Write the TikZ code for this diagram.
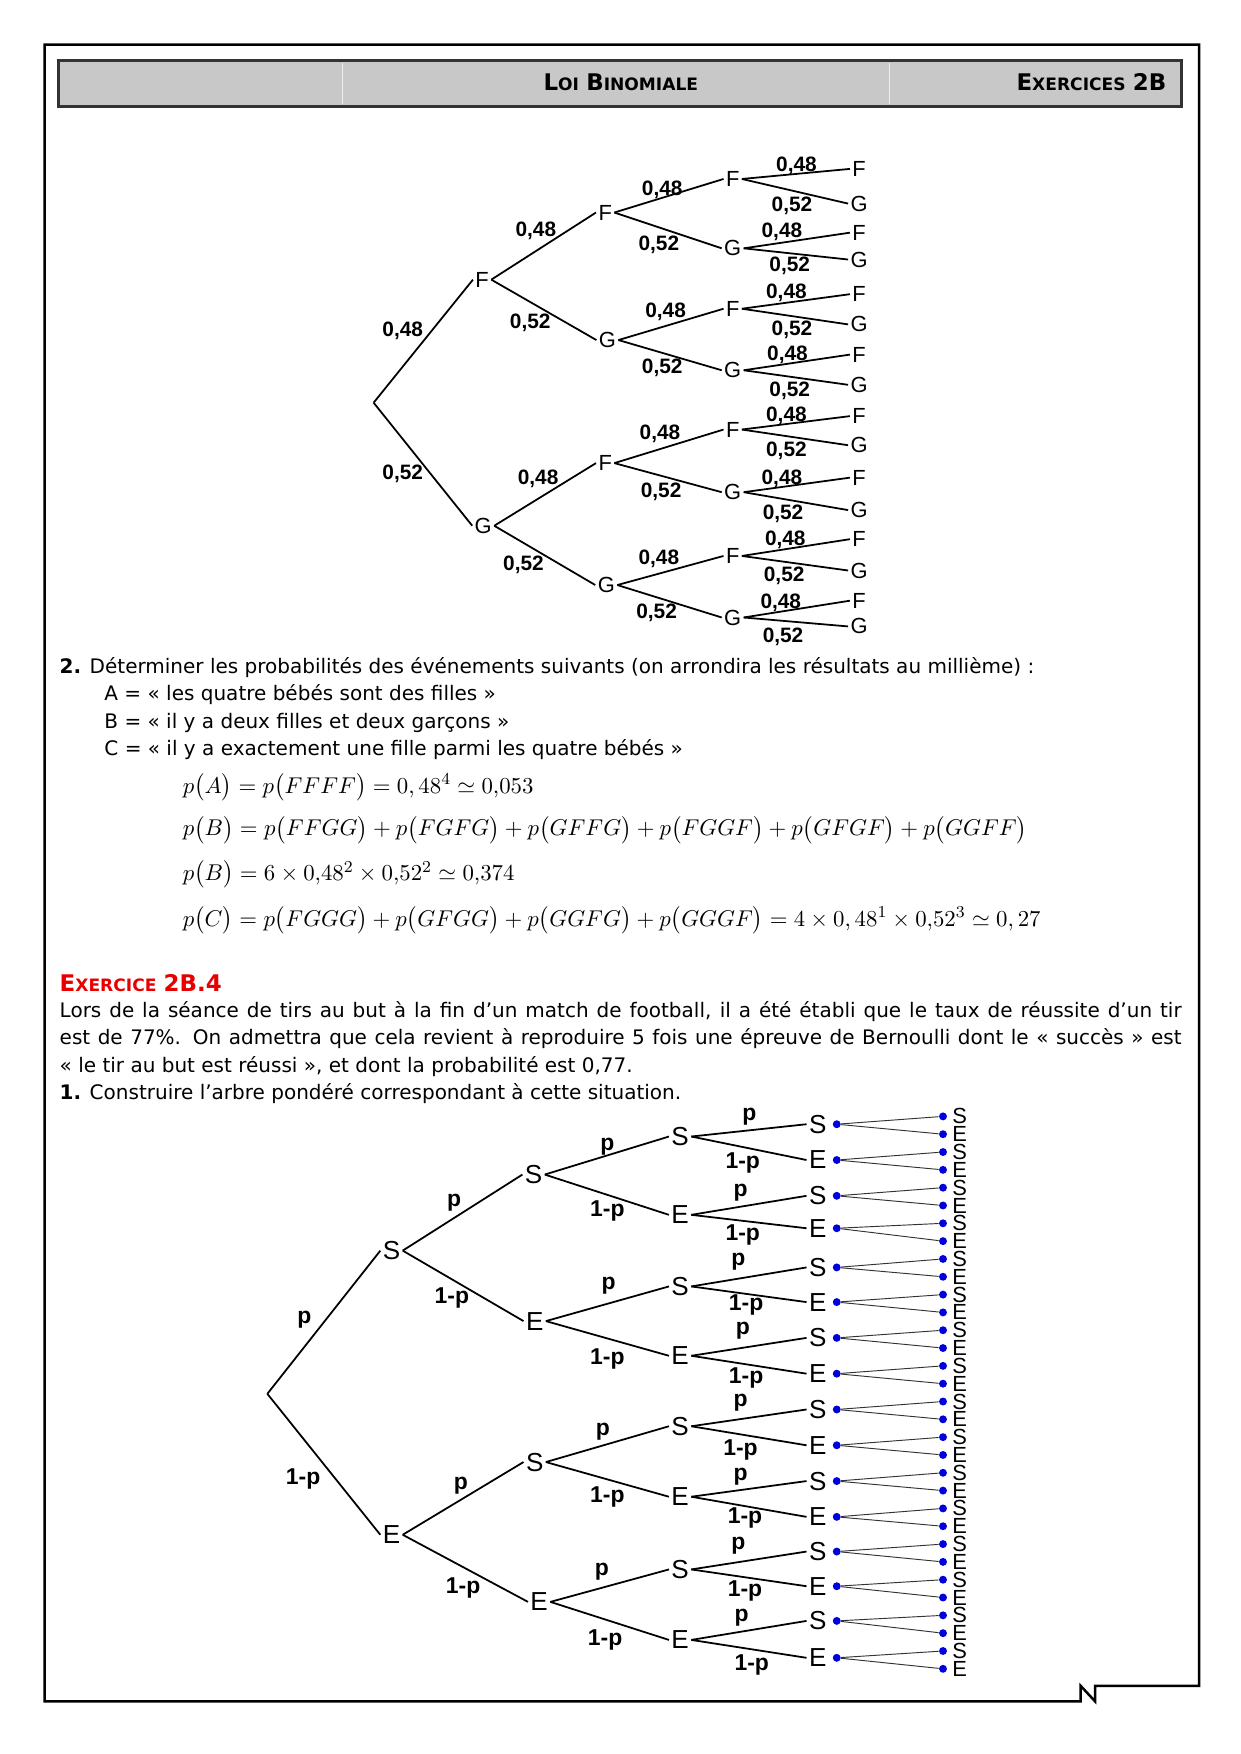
\documentclass[tikz,border=0pt]{standalone}
\usepackage{amsmath}
\usepackage{fontspec}
\setmainfont{DejaVu Sans}
\newfontfamily\arialfont{Liberation Sans}
\usetikzlibrary{positioning}

\definecolor{hdrgray}{RGB}{200,200,200}
\definecolor{exred}{RGB}{232,0,0}
\definecolor{dotblue}{RGB}{0,0,220}

\newcommand{\fakesc}[2]{{\fontsize{11}{12}\selectfont #1}{\fontsize{8.2}{10}\selectfont #2}}

\tikzstyle{txt} = [anchor=base west, inner sep=0pt, font=\fontsize{9.6}{11}\selectfont]
\tikzstyle{mth} = [anchor=base west, inner sep=0pt, font=\fontsize{10.8}{13}\selectfont]
\tikzstyle{lbl} = [inner sep=1pt, font=\arialfont\fontsize{10.5}{11}\selectfont]
\tikzstyle{blbl} = [inner sep=1pt, font=\arialfont\fontsize{12.5}{13}\selectfont]
\tikzstyle{prob} = [inner sep=0pt, font=\arialfont\bfseries\fontsize{10}{11}\selectfont]
\tikzstyle{bprob} = [inner sep=0pt, font=\arialfont\bfseries\fontsize{11}{12}\selectfont]
\tikzstyle{branch} = [line width=0.85pt]
\tikzstyle{twig} = [line width=0.45pt, black!80]
\tikzstyle{bdot} = [circle, fill=dotblue, inner sep=0pt, minimum size=3.8pt]

\begin{document}
\begin{tikzpicture}[x=0.5368pt, y=-0.5368pt]
\useasboundingbox (0,0) rectangle (1109,1568);

% cadre et en-tete
\draw[line width=1.2pt] (966,1521) -- (40,1521) -- (40,40) -- (1072,40) -- (1072,1507) -- (979,1507) -- (979,1521) -- (966,1507) -- cycle;
\draw[line width=1.6pt, draw=black!80, fill=hdrgray] (52,54) rectangle (1056,95);
\draw[white!70!hdrgray, line width=0.4pt] (306,56) -- (306,93) (795,56) -- (795,93);
\node[anchor=base, inner sep=0pt, font=\bfseries] (titre) at (555,81) {\fakesc{L}{OI} \fakesc{B}{INOMIALE}};
\node[anchor=base east, inner sep=0pt, font=\bfseries] (numero) at (1043,81) {\fakesc{E}{XERCICES} {\fontsize{11}{12}\selectfont 2B}};

% arbre 1
\coordinate (a0) at (334,360);
\node[lbl] (a1-1) at (431,250) {F};
\node[lbl] (a1-2) at (432,470) {G};
\foreach \i/\x/\y/\t in {1/541/190/F,2/543/304/G,3/541/414/F,4/542/523/G}
  \node[lbl] (a2-\i) at (\x,\y) {\t};
\foreach \i/\y in {1/160,2/222,3/276,4/331,5/384,6/440,7/497,8/552}
  \node[lbl] (a3-\i) at (655,\y) {\ifodd\i\relax F\else G\fi};
\foreach \i/\y in {1/151,2/182,3/208,4/232,5/263,6/290,7/317,8/344,9/372,10/398,11/427,12/456,13/482,14/510,15/537,16/560}
  \node[lbl] (a4-\i) at (768,\y) {\ifodd\i\relax F\else G\fi};

\draw[branch] (a0) -- (a1-1.west);
\draw[branch] (a0) -- (a1-2.west);
\foreach \i in {1,...,4}{\pgfmathtruncatemacro\prt{(\i+1)/2}\draw[branch] (a1-\prt.east) -- (a2-\i.west);}
\foreach \i in {1,...,8}{\pgfmathtruncatemacro\prt{(\i+1)/2}\draw[branch] (a2-\prt.east) -- (a3-\i.west);}
\foreach \i in {1,...,16}{\pgfmathtruncatemacro\prt{(\i+1)/2}\draw[branch] (a3-\prt.east) -- (a4-\i.west);}

\node[prob] (pa1-1) at (360,296) {0,48};
\node[prob] (pa1-2) at (360,424) {0,52};
\foreach \i/\x/\y in {1/479/206,2/474/289,3/481/428,4/468/505}
  \node[prob] (pa2-\i) at (\x,\y) {\ifodd\i\relax 0,48\else 0,52\fi};
\foreach \i/\x/\y in {1/592/170,2/589/219,3/595/279,4/592/329,5/590/388,6/591/440,7/589/500,8/587/548}
  \node[prob] (pa3-\i) at (\x,\y) {\ifodd\i\relax 0,48\else 0,52\fi};
\foreach \i/\x/\y in {1/712/148,2/708/184,3/699/207,4/706/238,5/703/262,6/708/295,7/704/317,8/706/349,9/703/372,10/703/403,11/699/428,12/700/459,13/702/483,14/701/515,15/698/539,16/700/569}
  \node[prob] (pa4-\i) at (\x,\y) {\ifodd\i\relax 0,48\else 0,52\fi};

% question 2
\node[txt] (q2) at (53,602) {\textbf{2.} Déterminer les probabilités des événements suivants (on arrondira les résultats au millième)~:};
\node[txt] (ev-a) at (93,626) {A = «~les quatre bébés sont des filles~»};
\node[txt] (ev-b) at (93,651) {B = «~il y a deux filles et deux garçons~»};
\node[txt] (ev-c) at (93,675) {C = «~il y a exactement une fille parmi les quatre bébés~»};
\node[mth] (f-a) at (163,709) {$p\big(A\big)=p\big(FFFF\big)=0,48^4\simeq0{,}053$};
\node[mth] (f-b) at (163,747) {$p\big(B\big)=p\big(FFGG\big)+p\big(FGFG\big)+p\big(GFFG\big)+p\big(FGGF\big)+p\big(GFGF\big)+p\big(GGFF\big)$};
\node[mth] (f-b2) at (163,787) {$p\big(B\big)=6\times0{,}48^2\times0{,}52^2\simeq0{,}374$};
\node[mth] (f-c) at (163,828) {$p\big(C\big)=p\big(FGGG\big)+p\big(GFGG\big)+p\big(GGFG\big)+p\big(GGGF\big)=4\times0,48^1\times0{,}52^3\simeq0,27$};

% exercice 2B.4
\node[txt, font=\bfseries, text=exred] (ex4) at (53,886) {\fakesc{E}{XERCICE} {\fontsize{11}{12}\selectfont 2B.4}};
\node[txt] (l1) at (53,910) {\makebox[538.4pt][s]{Lors de la séance de tirs au but à la fin d’un match de football, il a été établi que le taux de réussite d’un tir}};
\node[txt] (l2) at (53,934) {\makebox[538.4pt][s]{est de 77\%. On admettra que cela revient à reproduire 5 fois une épreuve de Bernoulli dont le «~succès~» est}};
\node[txt] (l3) at (53,959) {«~le tir au but est réussi~», et dont la probabilité est 0,77.};
\node[txt] (q1) at (53,983) {\textbf{1.} Construire l’arbre pondéré correspondant à cette situation.};

% arbre 2
\coordinate (b0) at (239,1246);
\node[blbl] (b1-1) at (350,1118) {S};
\node[blbl] (b1-2) at (350,1372) {E};
\foreach \i/\x/\y in {1/477/1050,2/478/1181,3/478/1307,4/482/1432}
  \node[blbl] (b2-\i) at (\x,\y) {\ifodd\i\relax S\else E\fi};
\foreach \i/\y in {1/1016,2/1086,3/1150,4/1212,5/1275,6/1338,7/1403,8/1466}
  \node[blbl] (b3-\i) at (608,\y) {\ifodd\i\relax S\else E\fi};
\foreach \i/\y in {1/1005,2/1037,3/1069,4/1098,5/1133,6/1164,7/1196,8/1228,9/1260,10/1292,11/1324,12/1356,13/1387,14/1418,15/1449,16/1482}{
  \node[blbl] (b4-\i) at (731,\y) {\ifodd\i\relax S\else E\fi};
  \node[bdot] (bd4-\i) at (748,\y) {};
}
\foreach \j in {1,...,32}{
  \pgfmathsetmacro\yy{998+15.93*(\j-1)}
  \node[bdot] (bd5-\j) at (843,\yy) {};
  \node[lbl] (b5-\j) at (858,\yy) {\ifodd\j\relax S\else E\fi};
}

\draw[branch] (b0) -- (b1-1.west);
\draw[branch] (b0) -- (b1-2.west);
\foreach \i in {1,...,4}{\pgfmathtruncatemacro\prt{(\i+1)/2}\draw[branch] (b1-\prt.east) -- (b2-\i.west);}
\foreach \i in {1,...,8}{\pgfmathtruncatemacro\prt{(\i+1)/2}\draw[branch] (b2-\prt.east) -- (b3-\i.west);}
\foreach \i in {1,...,16}{\pgfmathtruncatemacro\prt{(\i+1)/2}\draw[branch] (b3-\prt.east) -- (b4-\i.west);}
\foreach \j in {1,...,32}{\pgfmathtruncatemacro\prt{(\j+1)/2}\draw[twig] (bd4-\prt) -- (bd5-\j);}

\node[bprob] (pb1-1) at (272,1180) {p};
\node[bprob] (pb1-2) at (271,1322) {1-p};
\foreach \i/\x/\y in {1/406/1075,2/404/1160,3/412/1328,4/414/1420}
  \node[bprob] (pb2-\i) at (\x,\y) {\ifodd\i\relax p\else 1-p\fi};
\foreach \i/\x/\y in {1/543/1025,2/543/1083,3/544/1149,4/543/1215,5/539/1280,6/543/1338,7/538/1405,8/541/1466}
  \node[bprob] (pb3-\i) at (\x,\y) {\ifodd\i\relax p\else 1-p\fi};
\foreach \i/\x/\y in {1/670/998,2/664/1040,3/662/1066,4/664/1104,5/660/1128,6/667/1167,7/664/1190,8/667/1232,9/662/1254,10/662/1296,11/662/1320,12/666/1357,13/660/1382,14/666/1422,15/663/1446,16/672/1488}
  \node[bprob] (pb4-\i) at (\x,\y) {\ifodd\i\relax p\else 1-p\fi};
\end{tikzpicture}
\end{document}
